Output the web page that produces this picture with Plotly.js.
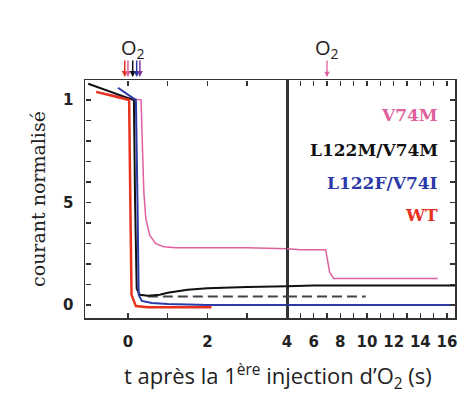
<!DOCTYPE html>
<html><head><meta charset="utf-8">
<script src="https://cdn.plot.ly/plotly-3.0.1.min.js"></script>
<style>html,body{margin:0;padding:0;background:#fff}#chart{width:461px;height:394px}</style>
</head><body><div id="chart"></div>
<script>
// time axis is broken at t = 4 s
const BREAK_T = 4;
const v74m_t = [-0.8, 0.33, 0.36, 0.4, 0.45, 0.55, 0.7, 0.9, 1.2, 2, 3, 4, 5, 6, 6.9, 7.2, 7.5, 9, 12, 15.3];
const v74m_y = [1.04, 1.0, 0.8, 0.55, 0.42, 0.34, 0.3, 0.285, 0.28, 0.28, 0.28, 0.275, 0.27, 0.27, 0.27, 0.16, 0.13, 0.13, 0.13, 0.13];
const l122m_t = [-1, 0.15, 0.18, 0.22, 0.3, 0.5, 0.8, 1, 1.5, 2, 3, 4, 6, 10, 16.6];
const l122m_y = [1.08, 1.0, 0.5, 0.08, 0.05, 0.045, 0.05, 0.06, 0.075, 0.082, 0.088, 0.092, 0.095, 0.095, 0.095];
const dash_t = [0.5, 9.9];
const dash_y = [0.042, 0.042];
const l122f_t = [-0.25, 0.2, 0.24, 0.27, 0.35, 0.6, 1, 2, 4, 8, 16.6];
const l122f_y = [1.06, 1.0, 0.5, 0.05, 0.02, 0.01, 0.005, 0.0, 0.0, 0.0, 0.0];
const wt_t = [-0.8, 0.03, 0.06, 0.09, 0.2, 0.5, 1, 2.1];
const wt_y = [1.04, 1.0, 0.5, 0.05, -0.005, -0.01, -0.01, -0.01];
const seriesNames = ["V74M", "L122M/V74M", "L122F/V74I", "WT"];
const seriesColors = ["#e0609c", "#111111", "#2b3aa8", "#e8321e"];
const yTickVals = [0, 0.1, 0.2, 0.3, 0.4, 0.5, 0.6, 0.7, 0.8, 0.9, 1];
const yTickText = ["0", "", "", "", "", "5", "", "", "", "", "1"];
const xLeftTickVals = [0, 1, 2, 3];
const xLeftTickText = ["0", "", "2", ""];
const xRightTickVals = [4,5,6,7,8,9,10,11,12,13,14,15,16];
const xRightTickText = ["4","","6","","8","","10","","12","","14","","16"];
const arrowT = [-0.08, 0.0, 0.12, 0.22, 0.3];
const arrowColors = ["#e8321e", "#e0609c", "#111111", "#2b3aa8", "#7a3a9a"];
const secondArrowT = 7.0;

function split(t, y) {
  const L = {x: [], y: []}, R = {x: [], y: []};
  for (let i = 0; i < t.length; i++) {
    if (i > 0 && t[i-1] < BREAK_T && t[i] > BREAK_T) {
      const f = (BREAK_T - t[i-1]) / (t[i] - t[i-1]);
      const yb = y[i-1] + f * (y[i] - y[i-1]);
      L.x.push(BREAK_T); L.y.push(yb);
      R.x.push(BREAK_T); R.y.push(yb);
    }
    if (t[i] <= BREAK_T) { L.x.push(t[i]); L.y.push(y[i]); }
    if (t[i] >= BREAK_T) { R.x.push(t[i]); R.y.push(y[i]); }
  }
  return [L, R];
}
const traces = [];
function add(t, y, color, width, dash) {
  const [L, R] = split(t, y);
  if (L.x.length) traces.push({x: L.x, y: L.y, xaxis: 'x', yaxis: 'y', mode: 'lines', line: {color, width, dash: dash || 'solid'}, hoverinfo: 'skip'});
  if (R.x.length) traces.push({x: R.x, y: R.y, xaxis: 'x2', yaxis: 'y2', mode: 'lines', line: {color, width, dash: dash || 'solid'}, hoverinfo: 'skip'});
}
add(v74m_t, v74m_y, seriesColors[0], 1.5);
add(dash_t, dash_y, "#444444", 1.8, "10px,5px");
add(l122m_t, l122m_y, seriesColors[1], 2);
add(wt_t, wt_y, seriesColors[3], 2.5);
add(l122f_t, l122f_y, seriesColors[2], 2);

// helper (drawn as nothing) traces so the tick-only overlay axes exist
[['x3','y'],['x4','y'],['x5','y2'],['x6','y2'],['x','y3'],['x2','y4']].forEach(([xa, ya]) => {
  traces.push({x: wt_t, y: wt_y, xaxis: xa, yaxis: ya, mode: 'none', hoverinfo: 'skip', showlegend: false});
});

const SPLIT = (287 - 85) / 370;
const Y_RANGE = [-0.063, 1.098];
const X_LEFT_RANGE = [-1.08, 4];
const X_RIGHT_RANGE = [4, 16.6];
const INK = "#333";
const tickFont = {family: "DejaVu Sans, sans-serif", size: 15, color: "#222", weight: "bold"};
const lineAxis = {showline: true, linecolor: INK, linewidth: 1.5, ticks: '', showgrid: false, zeroline: false, tickfont: tickFont, ticklabelstandoff: 9, ticklabeloverflow: 'allow', tickmode: 'array'};
const tickAxis = {showline: false, ticks: 'outside', ticklen: 5, tickwidth: 1.5, tickcolor: INK, showgrid: false, zeroline: false, showticklabels: false, tickmode: 'array', anchor: 'free'};

const annotations = [];
const legendY = [115, 150, 183, 215];
seriesNames.forEach((n, i) => {
  annotations.push({text: n, xref: 'paper', yref: 'paper', x: (440 - 85) / 370, y: (318 - legendY[i]) / 238, xanchor: 'right', yanchor: 'middle', showarrow: false, font: {family: "DejaVu Serif, serif", size: 17, weight: "bold", color: seriesColors[i]}});
});
arrowT.forEach((t, i) => {
  annotations.push({x: t, y: (318 - 77) / 238, xref: 'x', yref: 'paper', ax: 0, ay: -18, showarrow: true, arrowhead: 2, arrowsize: 0.8, arrowwidth: 1.5, arrowcolor: arrowColors[i], text: ""});
});
annotations.push({x: secondArrowT, y: (318 - 77) / 238, xref: 'x2', yref: 'paper', ax: 0, ay: -18, showarrow: true, arrowhead: 2, arrowsize: 0.8, arrowwidth: 1.3, arrowcolor: seriesColors[0], text: ""});
annotations.push({text: "O<sub>2</sub>", x: 0.12, xref: 'x', y: (318 - 32) / 238, yref: 'paper', showarrow: false, font: {family: "Open Sans, sans-serif", size: 20, color: "#222"}});
annotations.push({text: "O<sub>2</sub>", x: 7.0, xref: 'x2', y: (318 - 32) / 238, yref: 'paper', showarrow: false, font: {family: "Open Sans, sans-serif", size: 20, color: "#222"}});
annotations.push({text: "t après la 1<sup>ère</sup> injection d’O<sub>2</sub> (s)", xref: 'paper', yref: 'paper', x: (278 - 85) / 370, y: (318 - 376) / 238, xanchor: 'center', yanchor: 'middle', showarrow: false, font: {family: "Open Sans, sans-serif", size: 22, color: "#222"}});

const layout = {
  width: 461, height: 394, margin: {l: 85, r: 6, t: 80, b: 76},
  paper_bgcolor: "#fff", plot_bgcolor: "rgba(0,0,0,0)", showlegend: false,
  xaxis: Object.assign({}, lineAxis, {domain: [0, SPLIT], range: X_LEFT_RANGE, anchor: 'y', mirror: true, tickvals: xLeftTickVals, ticktext: xLeftTickText}),
  xaxis2: Object.assign({}, lineAxis, {domain: [SPLIT, 1], range: X_RIGHT_RANGE, anchor: 'y2', mirror: true, tickvals: xRightTickVals, ticktext: xRightTickText, tickangle: 0}),
  yaxis: Object.assign({}, lineAxis, {range: Y_RANGE, anchor: 'x', mirror: true, ticklabelstandoff: 7, tickvals: yTickVals, ticktext: yTickText, title: {text: "courant normalisé", font: {family: "DejaVu Serif, serif", size: 19, color: "#222"}, standoff: 12}}),
  yaxis2: Object.assign({}, lineAxis, {range: Y_RANGE, anchor: 'x2', side: 'right', mirror: true, showticklabels: false, tickvals: yTickVals}),
  // tick-only axes: outward ticks placed on the opposite edge so they point into the frame
  xaxis3: Object.assign({}, tickAxis, {overlaying: 'x', side: 'top', position: 0, range: X_LEFT_RANGE, tickvals: xLeftTickVals}),
  xaxis4: Object.assign({}, tickAxis, {overlaying: 'x', side: 'bottom', position: 1, range: X_LEFT_RANGE, tickvals: xLeftTickVals}),
  xaxis5: Object.assign({}, tickAxis, {overlaying: 'x2', side: 'top', position: 0, range: X_RIGHT_RANGE, tickvals: xRightTickVals}),
  xaxis6: Object.assign({}, tickAxis, {overlaying: 'x2', side: 'bottom', position: 1, range: X_RIGHT_RANGE, tickvals: xRightTickVals}),
  yaxis3: Object.assign({}, tickAxis, {overlaying: 'y', side: 'right', position: 0, range: Y_RANGE, tickvals: yTickVals}),
  yaxis4: Object.assign({}, tickAxis, {overlaying: 'y2', side: 'left', position: 1, range: Y_RANGE, tickvals: yTickVals}),
  annotations
};
Plotly.newPlot('chart', traces, layout, {staticPlot: true});
</script></body></html>
